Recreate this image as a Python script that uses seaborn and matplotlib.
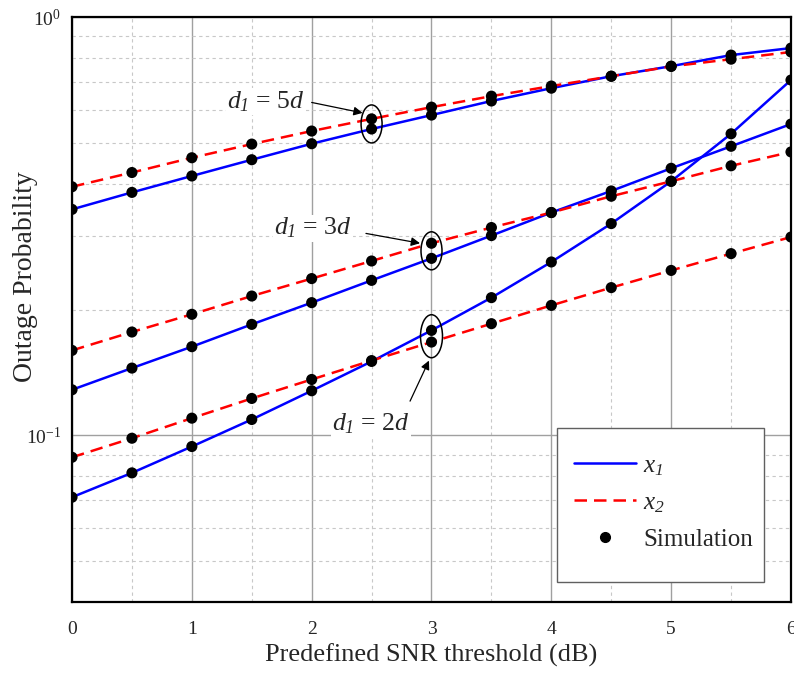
import numpy as np
import pandas as pd
import seaborn as sns
import matplotlib.pyplot as plt
import matplotlib.transforms as mtransforms
from matplotlib.patches import Ellipse, Rectangle
from matplotlib.lines import Line2D
from matplotlib.ticker import LogLocator, MultipleLocator, FuncFormatter, NullFormatter

# --- Data ---
snr_db = [0, 0.5, 1, 1.5, 2, 2.5, 3, 3.5, 4, 4.5, 5, 5.5, 6]

# d1 = 5d
x1_5d = [0.347, 0.381, 0.417, 0.456, 0.498, 0.540, 0.583, 0.630, 0.676, 0.722, 0.763, 0.811, 0.843]
x2_5d = [0.393, 0.425, 0.461, 0.497, 0.534, 0.571, 0.609, 0.647, 0.684, 0.722, 0.762, 0.793, 0.825]
# d1 = 3d
x1_3d = [0.1286, 0.1449, 0.163, 0.1843, 0.2077, 0.2348, 0.265, 0.3004, 0.341, 0.384, 0.435, 0.491, 0.555]
x2_3d = [0.1597, 0.1767, 0.1948, 0.2154, 0.2371, 0.2612, 0.288, 0.314, 0.341, 0.373, 0.405, 0.441, 0.476]
# d1 = 2d
x1_2d = [0.0712, 0.0814, 0.0941, 0.1092, 0.1279, 0.1503, 0.1783, 0.2135, 0.2598, 0.3209, 0.405, 0.526, 0.707]
x2_2d = [0.0887, 0.0985, 0.110, 0.1226, 0.1361, 0.151, 0.1672, 0.185, 0.2046, 0.2256, 0.248, 0.272, 0.298]

series = {
    ('5d', 'x1'): x1_5d, ('5d', 'x2'): x2_5d,
    ('3d', 'x1'): x1_3d, ('3d', 'x2'): x2_3d,
    ('2d', 'x1'): x1_2d, ('2d', 'x2'): x2_2d,
}

rows = []
for (d1, user), vals in series.items():
    for s, v in zip(snr_db, vals):
        rows.append({'snr': s, 'p': v, 'd1': d1, 'user': user})
df = pd.DataFrame(rows)

# --- Style ---
sns.set_style('white')
plt.rcParams['font.family'] = ['Liberation Serif', 'DejaVu Serif']
# math text is all italic (also the digit subscripts); upright math goes through \mathsf
plt.rcParams['mathtext.fontset'] = 'custom'
plt.rcParams['mathtext.rm'] = 'Liberation Serif:italic'
plt.rcParams['mathtext.it'] = 'Liberation Serif:italic'
plt.rcParams['mathtext.sf'] = 'Liberation Serif'
plt.rcParams['mathtext.bf'] = 'Liberation Serif:bold'

fig = plt.figure(figsize=(7.94, 6.73), dpi=100)
ax = fig.add_axes([0.0907, 0.1055, 0.9055, 0.8692])

colors = {'x1': '#0000ff', 'x2': '#ff0000'}
styles = {'x1': '-', 'x2': (0, (5, 2.8))}

for (d1, user), sub in df.groupby(['d1', 'user']):
    sns.lineplot(data=sub, x='snr', y='p', color=colors[user], linestyle=styles[user],
                 lw=1.8, ax=ax, zorder=3, legend=False)
sns.scatterplot(data=df, x='snr', y='p', color='black', s=64, edgecolor='none',
                ax=ax, zorder=4, legend=False)

ax.set_yscale('log')
ax.set_xlim(0, 6)
ax.set_ylim(0.04, 1)

# ticks
ax.xaxis.set_major_locator(MultipleLocator(1))
ax.xaxis.set_minor_locator(MultipleLocator(0.5))
ax.yaxis.set_major_locator(LogLocator(base=10))
ax.yaxis.set_minor_locator(LogLocator(base=10, subs=np.arange(2, 10)))
ax.yaxis.set_major_formatter(FuncFormatter(
    lambda v, pos: r'$\mathsf{10^{%d}}$' % int(round(np.log10(v)))))
ax.yaxis.set_minor_formatter(NullFormatter())
ax.tick_params(axis='both', which='major', direction='in', length=7, width=1.4,
               labelsize=14, top=False, right=False)
ax.tick_params(axis='both', which='minor', direction='in', length=3.6, width=1.2,
               top=False, right=False)
ax.tick_params(axis='x', which='major', pad=14)
ax.tick_params(axis='y', which='major', pad=8)

# grid
ax.grid(which='major', color='#a0a0a0', lw=1.0, ls='-', zorder=0)
ax.grid(which='minor', color='#c8c8c8', lw=0.8, ls=(0, (3, 3)), zorder=0)
ax.set_axisbelow(True)

for sp in ax.spines.values():
    sp.set_color('black')
    sp.set_linewidth(1.6)

ax.set_xlabel('Predefined SNR threshold (dB)', fontsize=19, labelpad=4)
ax.set_ylabel('Outage Probability', fontsize=20)
ax.yaxis.set_label_coords(-0.047, 0.557)

# --- Ellipses and annotations ---
def ring(xv, ya, yb, w, h):
    yc = np.sqrt(ya * yb)
    tr = fig.dpi_scale_trans + mtransforms.ScaledTranslation(xv, yc, ax.transData)
    ax.add_patch(Ellipse((0, 0), w, h, transform=tr, fill=False, ec='black', lw=1.1, zorder=5))

ring(2.5, x1_5d[5], x2_5d[5], 0.21, 0.38)
ring(3.0, x1_3d[6], x2_3d[6], 0.21, 0.38)
ring(3.0, x1_2d[6], x2_2d[6], 0.22, 0.43)

arrow = dict(arrowstyle='-|>', color='black', lw=0.9, mutation_scale=13, shrinkA=0, shrinkB=0)
box = dict(facecolor='white', edgecolor='none', pad=1)

ax.annotate('', xy=(2.425, 0.590), xytext=(2.0, 0.625), arrowprops=arrow, zorder=6)
ax.text(1.944, 0.628, r'$d_{1}$ = 5$d$', fontsize=18.5, ha='right', va='center', bbox=box, zorder=6)

ax.annotate('', xy=(2.904, 0.288), xytext=(2.453, 0.304), arrowprops=arrow, zorder=6)
ax.text(2.337, 0.313, r'$d_{1}$ = 3$d$', fontsize=18.5, ha='right', va='center', bbox=box, zorder=6)

ax.annotate('', xy=(2.979, 0.151), xytext=(2.821, 0.1208), arrowprops=arrow, zorder=6)
ax.text(2.17, 0.1068, r'$d_{1}$ = 2$d$', fontsize=18.5, ha='left', va='center', bbox=box, zorder=6)

# --- Legend (own frame so the padding can differ per side) ---
ax.add_patch(Rectangle((0.6745, 0.034), 0.2875, 0.263, transform=ax.transAxes,
                       facecolor='white', edgecolor='#606060', lw=1.0, zorder=6))
handles = [
    Line2D([0], [0], color=colors['x1'], lw=1.8, ls='-'),
    Line2D([0], [0], color=colors['x2'], lw=1.8, ls=styles['x2']),
    Line2D([0], [0], color='black', marker='o', ls='none', markersize=7),
]
labels = [r'$x_{1}$', r'$x_{2}$', 'Simulation']
leg = ax.legend(handles, labels, loc='upper left', bbox_to_anchor=(0.698, 0.252),
                fontsize=18, frameon=False, handlelength=2.48, labelspacing=0.55,
                borderpad=0, handletextpad=0.3, borderaxespad=0)
leg.set_zorder(7)

plt.savefig('out.png', dpi=100)
